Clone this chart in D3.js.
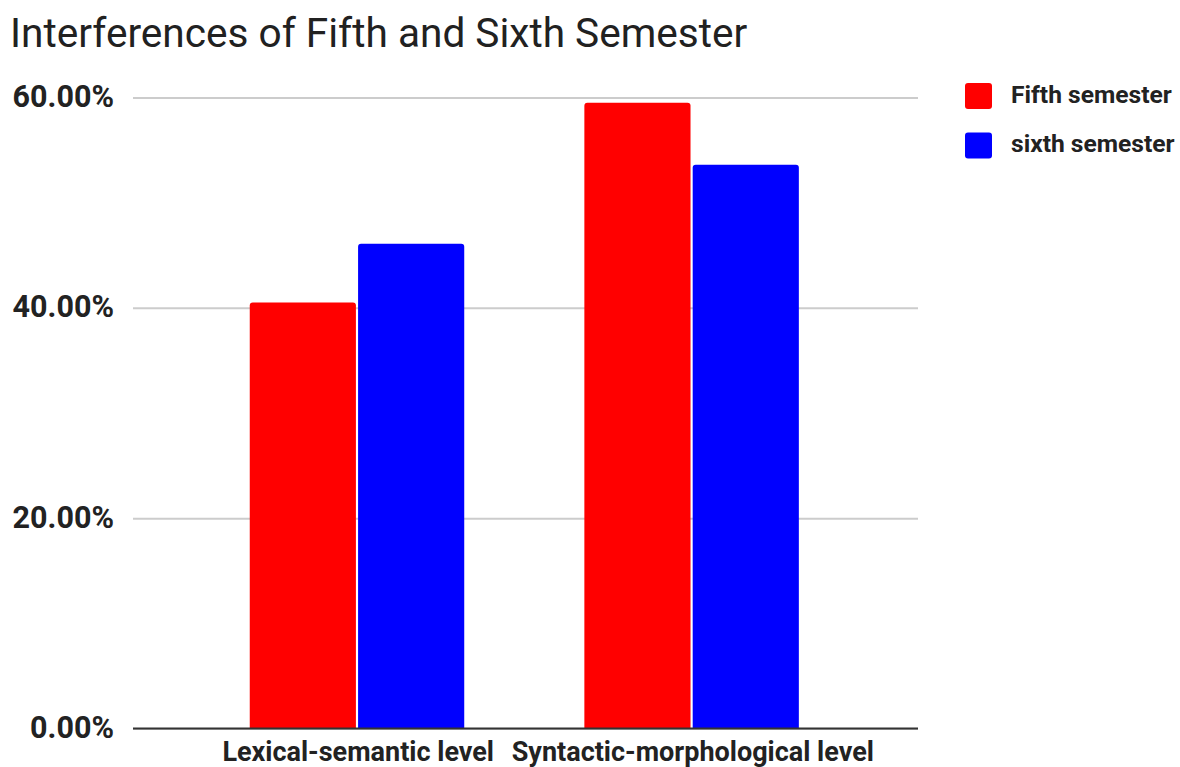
<!DOCTYPE html>
<html>
<head>
<meta charset="utf-8">
<script src="https://cdn.jsdelivr.net/npm/d3@7"></script>
<style>
  html, body { margin: 0; padding: 0; background: #fff; }
  svg { display: block; font-family: Roboto, "Noto Sans", sans-serif; }
</style>
</head>
<body>
<svg id="chart" width="1180" height="767"></svg>
<script>
// Interference rates per linguistic level, in percent
const categories = ["Lexical-semantic level", "Syntactic-morphological level"];
const seriesNames = ["Fifth semester", "sixth semester"];
const fifthSemester = [40.5, 59.5];
const sixthSemester = [46.1, 53.6];
const yTicks = [0, 20, 40, 60];
const seriesColors = ["#ff0000", "#0000ff"];

const seriesValues = [fifthSemester, sixthSemester];
const rows = categories.map((c, i) => ({
  category: c,
  values: seriesNames.map((s, j) => ({ series: s, value: seriesValues[j][i] }))
}));

const svg = d3.select("#chart");
const plot = { left: 133, right: 918, top: 97.5, bottom: 728.5 };

const x0 = d3.scaleBand()
  .domain(categories)
  .range([plot.left, plot.right])
  .paddingInner(0.359)
  .paddingOuter(0.3525);

const x1 = d3.scaleBand()
  .domain(seriesNames)
  .range([0, x0.bandwidth()])
  .paddingInner(0.02);

const y = d3.scaleLinear().domain([0, 60]).range([plot.bottom, plot.top]);
const color = d3.scaleOrdinal().domain(seriesNames).range(seriesColors);

// Title
svg.append("text")
  .attr("x", 10)
  .attr("y", 47)
  .attr("font-size", 40.6)
  .attr("fill", "#212121")
  .text("Interferences of Fifth and Sixth Semester");

// Horizontal gridlines
const yAxis = d3.axisLeft(y)
  .tickValues(yTicks)
  .tickSize(-(plot.right - plot.left))
  .tickFormat(d => d.toFixed(2) + "%");

const gy = svg.append("g")
  .attr("transform", `translate(${plot.left},0)`)
  .call(yAxis);
gy.select(".domain").remove();
gy.selectAll(".tick line")
  .attr("stroke", "#cccccc")
  .attr("stroke-width", 2);
gy.selectAll(".tick text")
  .attr("x", -19)
  .attr("dy", "0.3em")
  .attr("font-size", 30.5)
  .attr("font-weight", "bold")
  .attr("fill", "#222")
  .attr("font-family", "Roboto, sans-serif");

// Bars with rounded top corners
function topRoundedRect(x, yTop, w, h, r) {
  r = Math.min(r, w / 2, h);
  return `M${x},${yTop + h}V${yTop + r}Q${x},${yTop} ${x + r},${yTop}` +
         `H${x + w - r}Q${x + w},${yTop} ${x + w},${yTop + r}V${yTop + h}Z`;
}

const groups = svg.append("g")
  .selectAll("g")
  .data(rows)
  .join("g")
  .attr("transform", d => `translate(${x0(d.category) - 1.2},0)`);

groups.selectAll("path")
  .data(d => d.values)
  .join("path")
  .attr("fill", d => color(d.series))
  .attr("d", d => topRoundedRect(x1(d.series), y(d.value), x1.bandwidth(), y(0) - y(d.value), 3));

// Baseline
svg.append("line")
  .attr("x1", plot.left)
  .attr("x2", plot.right)
  .attr("y1", y(0))
  .attr("y2", y(0))
  .attr("stroke", "#333")
  .attr("stroke-width", 2);

// Category labels
const xAxis = d3.axisBottom(x0).tickSize(0);
const gx = svg.append("g")
  .attr("transform", `translate(0,${y(0)})`)
  .call(xAxis);
gx.select(".domain").remove();
gx.selectAll(".tick text")
  .attr("y", 32.5)
  .attr("dy", 0)
  .attr("font-size", 27)
  .attr("font-weight", "bold")
  .attr("fill", "#222")
  .attr("font-family", "Roboto, sans-serif");

// Legend
const legend = svg.append("g")
  .selectAll("g")
  .data(seriesNames)
  .join("g")
  .attr("transform", (d, i) => `translate(965,${83 + i * 49.5})`);

legend.append("rect")
  .attr("width", 27)
  .attr("height", 26)
  .attr("rx", 3)
  .attr("fill", d => color(d));

legend.append("text")
  .attr("x", 46)
  .attr("y", 19.5)
  .attr("font-size", 24.6)
  .attr("font-weight", "bold")
  .attr("fill", "#222")
  .text(d => d);
</script>
</body>
</html>
